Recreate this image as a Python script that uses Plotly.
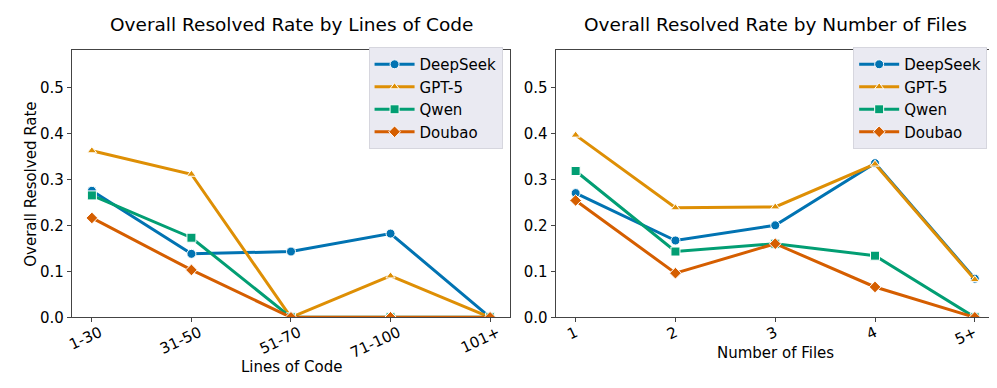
import plotly.graph_objects as go

# data
loc_bins = ["1-30", "31-50", "51-70", "71-100", "101+"]
file_bins = ["1", "2", "3", "4", "5+"]

models = ["DeepSeek", "GPT-5", "Qwen", "Doubao"]

deepseek_loc = [0.275, 0.138, 0.143, 0.182, 0.0]
gpt5_loc = [0.362, 0.311, 0.0, 0.090, 0.0]
qwen_loc = [0.265, 0.173, 0.0, 0.0, 0.0]
doubao_loc = [0.216, 0.103, 0.0, 0.0, 0.0]

deepseek_files = [0.270, 0.167, 0.200, 0.335, 0.084]
gpt5_files = [0.396, 0.238, 0.240, 0.333, 0.082]
qwen_files = [0.318, 0.143, 0.160, 0.134, 0.0]
doubao_files = [0.254, 0.096, 0.160, 0.066, 0.0]

colors = ["#0173b2", "#de8f05", "#029e73", "#d55e00"]
symbols = ["circle", "triangle-up", "square", "diamond"]

FONT = "DejaVu Sans"

fig = go.Figure()

panels = [
    (loc_bins, [deepseek_loc, gpt5_loc, qwen_loc, doubao_loc], "x", "y", "legend"),
    (file_bins, [deepseek_files, gpt5_files, qwen_files, doubao_files], "x2", "y2", "legend2"),
]

for cats, series, xa, ya, leg in panels:
    for name, vals, col, sym in zip(models, series, colors, symbols):
        fig.add_trace(go.Scatter(
            x=cats, y=vals, name=name, mode="lines+markers",
            line=dict(color=col, width=3),
            marker=dict(symbol=sym, size=9 if sym != "triangle-up" else 8, color=col,
                        line=dict(color="white", width=1)),
            xaxis=xa, yaxis=ya, legend=leg,
        ))

axis_common = dict(
    showgrid=False, zeroline=False, showline=True, mirror=True,
    linecolor="#444444", linewidth=1.2,
    ticks="outside", ticklen=4, tickcolor="#444444",
    tickfont=dict(family=FONT, size=15, color="black"),
)

legend_common = dict(
    bgcolor="#eaeaf2", bordercolor="#d6d6de", borderwidth=1,
    font=dict(family=FONT, size=15, color="black"),
    xanchor="right", yanchor="top", y=0.897,
    tracegroupgap=0, itemwidth=40,
)


def px_x(v):
    return v / 997


def px_y(v):
    return (388 - v) / 388


def label(text, x, y, angle=0, size=15):
    return dict(text=text, x=px_x(x), y=px_y(y), xref="paper", yref="paper",
                xanchor="center", yanchor="middle", showarrow=False, textangle=angle,
                font=dict(family=FONT, size=size))


fig.update_layout(
    width=997, height=388,
    margin=dict(l=0, r=0, t=0, b=0),
    paper_bgcolor="white", plot_bgcolor="white",
    font=dict(family=FONT, color="black"),
    xaxis=dict(domain=[0.0585, 0.5005], range=[-0.2, 4.2], tickangle=-25,
               ticklabelshift=8, ticklabelstandoff=-4, **axis_common),
    yaxis=dict(domain=[0.1838, 0.888], range=[0, 0.58], tickvals=[0, 0.1, 0.2, 0.3, 0.4, 0.5],
               tickformat=".1f", **axis_common),
    xaxis2=dict(domain=[0.5466, 0.9897], range=[-0.2, 4.2], tickangle=-25,
                ticklabelshift=0, ticklabelstandoff=-4, anchor="y2", **axis_common),
    yaxis2=dict(domain=[0.1838, 0.888], range=[0, 0.58], tickvals=[0, 0.1, 0.2, 0.3, 0.4, 0.5],
                tickformat=".1f", anchor="x2", **axis_common),
    legend=dict(x=0.493, **legend_common),
    legend2=dict(x=0.982, **legend_common),
    annotations=[
        label("Overall Resolved Rate by Lines of Code", 279, 17, size=18.5),
        label("Overall Resolved Rate by Number of Files", 766, 17, size=18.5),
        label("Lines of Code", 279, 368),
        label("Number of Files", 766, 353),
        label("Overall Resolved Rate", 17, 180, angle=-90),
    ],
)

fig.write_html("out.html")
